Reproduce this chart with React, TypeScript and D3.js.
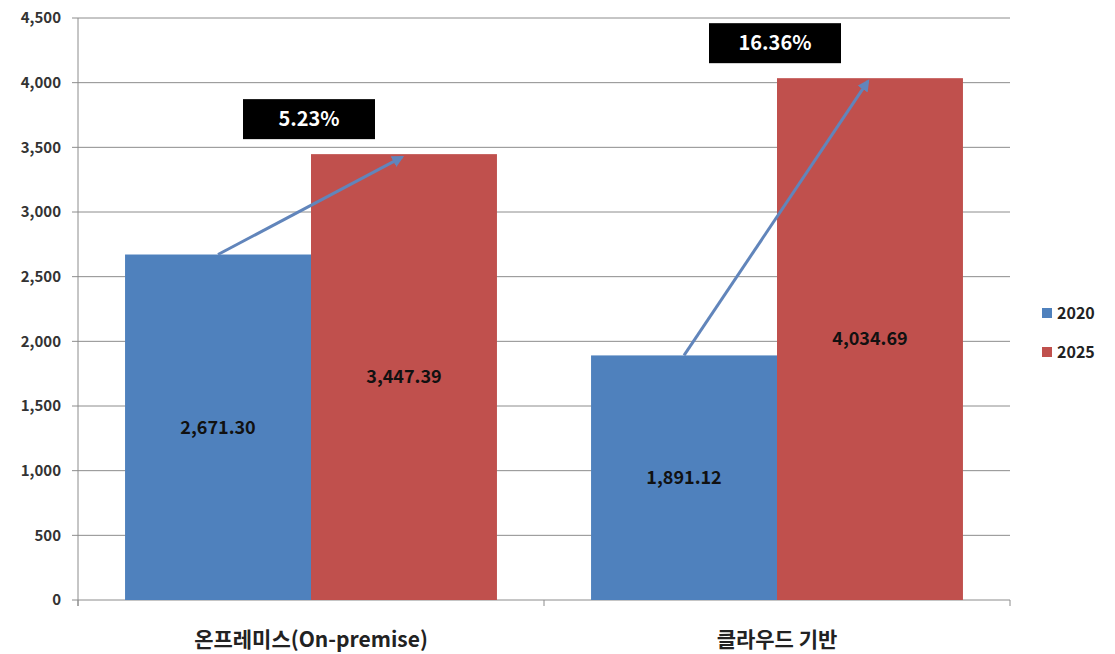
import React, { useRef, useEffect } from 'react';
import * as d3 from 'd3';

const categories = ['온프레미스(On-premise)', '클라우드 기반'];
const seriesNames = ['2020', '2025'];
const values2020 = [2671.3, 1891.12];
const values2025 = [3447.39, 4034.69];
const growthLabels = ['5.23%', '16.36%'];
const yTicks = [0, 500, 1000, 1500, 2000, 2500, 3000, 3500, 4000, 4500];

const colors = ['#4f81bd', '#c0504d'];
const font = '"Noto Sans CJK KR", "Noto Sans", sans-serif';

const App = () => {
  const ref = useRef<SVGSVGElement>(null);

  useEffect(() => {
    const svg = d3.select(ref.current);
    svg.selectAll('*').remove();

    const left = 78, right = 1010, top = 18, bottom = 600;

    const x = d3.scaleBand().domain(categories).range([left, right]);
    const inner = d3.scaleBand().domain(seriesNames).range([0, x.bandwidth()]).paddingOuter(0.253).paddingInner(0);
    const y = d3.scaleLinear().domain([0, 4500]).range([bottom, top]);

    // arrow marker
    svg.append('defs').append('marker')
      .attr('id', 'arr')
      .attr('viewBox', '0 0 10 10')
      .attr('refX', 8).attr('refY', 5)
      .attr('markerWidth', 4).attr('markerHeight', 4)
      .attr('orient', 'auto')
      .append('path').attr('d', 'M0,0 L10,5 L0,10 z').attr('fill', '#6185bb');

    // gridlines
    svg.append('g').selectAll('line').data(yTicks).enter().append('line')
      .attr('x1', left - 6).attr('x2', right)
      .attr('y1', d => y(d)).attr('y2', d => y(d))
      .attr('stroke', '#8c8c8c').attr('stroke-width', 1);

    svg.append('g').selectAll('text').data(yTicks).enter().append('text')
      .attr('x', 61).attr('y', d => y(d)).attr('dy', '0.35em')
      .attr('text-anchor', 'end')
      .attr('font-family', font).attr('font-size', 15).attr('font-weight', 'bold')
      .attr('fill', '#333')
      .text(d => d3.format(',')(d));

    const data = categories.map((c, i) => ({ c, v: [values2020[i], values2025[i]], g: growthLabels[i] }));

    const groups = svg.append('g').selectAll('g').data(data).enter().append('g')
      .attr('transform', d => `translate(${x(d.c)},0)`);

    groups.selectAll('rect').data(d => d.v.map((v, j) => ({ v, s: seriesNames[j], j }))).enter().append('rect')
      .attr('x', d => inner(d.s)!)
      .attr('width', inner.bandwidth())
      .attr('y', d => y(d.v))
      .attr('height', d => bottom - y(d.v))
      .attr('fill', d => colors[d.j]);

    groups.selectAll('text.val').data(d => d.v.map((v, j) => ({ v, s: seriesNames[j] }))).enter().append('text')
      .attr('class', 'val')
      .attr('x', d => inner(d.s)! + inner.bandwidth() / 2)
      .attr('y', d => (y(d.v) + bottom) / 2)
      .attr('dy', '0.35em')
      .attr('text-anchor', 'middle')
      .attr('font-family', font).attr('font-size', 18).attr('font-weight', 'bold')
      .attr('fill', '#111')
      .text(d => d3.format(',.2f')(d.v));

    // growth arrows
    groups.append('line')
      .attr('x1', inner('2020')! + inner.bandwidth() / 2)
      .attr('y1', d => y(d.v[0]))
      .attr('x2', inner('2025')! + inner.bandwidth() / 2 - 2)
      .attr('y2', d => y(d.v[1]) + 3)
      .attr('stroke', '#6185bb').attr('stroke-width', 3)
      .attr('marker-end', 'url(#arr)');

    // growth label boxes
    const bx = x.bandwidth() / 2 - 2;
    groups.append('rect')
      .attr('x', bx - 66).attr('width', 132)
      .attr('y', d => y(d.v[1]) - 55).attr('height', 40)
      .attr('fill', '#000');
    groups.append('text')
      .attr('x', bx).attr('y', d => y(d.v[1]) - 35).attr('dy', '0.35em')
      .attr('text-anchor', 'middle')
      .attr('font-family', font).attr('font-size', 20).attr('font-weight', 'bold')
      .attr('fill', '#fff')
      .text(d => d.g);

    // axes lines
    svg.append('line').attr('x1', left).attr('x2', left).attr('y1', top).attr('y2', bottom + 6)
      .attr('stroke', '#8c8c8c');
    svg.append('g').selectAll('line').data([left, left + x.bandwidth(), right]).enter().append('line')
      .attr('x1', d => d).attr('x2', d => d).attr('y1', bottom).attr('y2', bottom + 6)
      .attr('stroke', '#8c8c8c');

    svg.append('g').selectAll('text').data(categories).enter().append('text')
      .attr('x', d => x(d)! + x.bandwidth() / 2)
      .attr('y', 640).attr('dy', '0.35em')
      .attr('text-anchor', 'middle')
      .attr('font-family', font).attr('font-size', 21).attr('font-weight', 'bold')
      .attr('fill', '#222')
      .text(d => d);

    // legend
    const lg = svg.append('g').selectAll('g').data(seriesNames).enter().append('g')
      .attr('transform', (d, i) => `translate(1042,${313 + i * 39})`);
    lg.append('rect').attr('x', 0).attr('y', -5).attr('width', 10).attr('height', 10)
      .attr('fill', (d, i) => colors[i]);
    lg.append('text').attr('x', 15).attr('dy', '0.35em')
      .attr('font-family', font).attr('font-size', 16).attr('font-weight', 'bold')
      .attr('fill', '#222')
      .text(d => d);
  }, []);

  return (
    <svg ref={ref} width={1115} height={654} style={{ position: 'absolute', left: 0, top: 0, background: '#fff' }} />
  );
};

export default App;
